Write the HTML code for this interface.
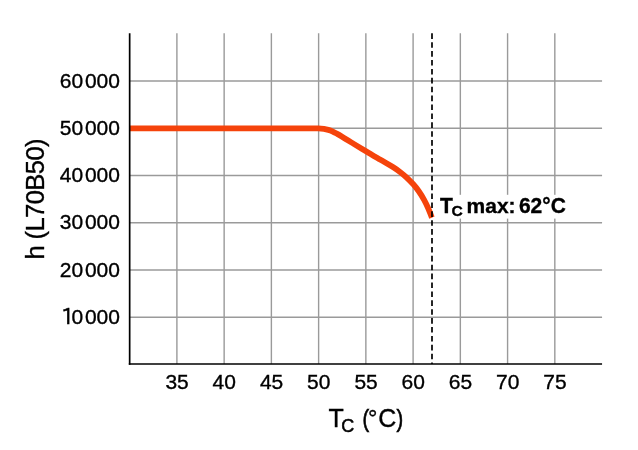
<!DOCTYPE html>
<html><head><meta charset="utf-8"><title>Tc chart</title>
<style>
html,body{margin:0;padding:0;background:#fff;}
svg{display:block;}
text{font-family:"Liberation Sans",Arial,Helvetica,sans-serif;fill:#000;stroke:#000;stroke-width:0.35px;}
.tick{font-size:21px;}
.one{font-family:'IPAPGothic','IPAGothic','Liberation Sans',sans-serif;font-size:20.4px;stroke-width:0.55px;}
.title{font-size:24px;}
.ann{font-size:21px;font-weight:bold;stroke-width:0.35px;}
</style></head>
<body>
<svg width="638" height="450" viewBox="0 0 638 450">
<rect width="638" height="450" fill="#fff"/>
<g stroke="#9a9a9a" stroke-width="1.4" fill="none">
<path d="M176.90 33.32V364.00M224.14 33.32V364.00M271.38 33.32V364.00M318.62 33.32V364.00M365.86 33.32V364.00M413.10 33.32V364.00M460.34 33.32V364.00M507.58 33.32V364.00M554.82 33.32V364.00"/>
<path d="M129.66 317.21H602.06M129.66 269.97H602.06M129.66 222.73H602.06M129.66 175.49H602.06M129.66 128.25H602.06M129.66 81.01H602.06"/>
</g>
<path d="M129.66 128.3H300.0 C302.0 128.3 308.9 128.3 312.0 128.3 C315.1 128.3 316.6 128.3 318.6 128.4 C320.6 128.5 322.3 128.7 323.9 128.9 C325.5 129.2 326.8 129.5 328.3 129.9 C329.8 130.3 331.3 130.9 332.8 131.6 C334.3 132.3 335.7 133.1 337.2 133.9 C338.7 134.7 340.2 135.6 341.7 136.5 C343.2 137.4 344.2 138.0 346.1 139.2 C348.0 140.4 350.0 141.6 353.3 143.6 C356.6 145.6 361.6 148.6 366.0 151.3 C370.4 154.0 375.4 156.9 380.0 159.6 C384.6 162.3 390.0 165.2 393.3 167.3 C396.6 169.4 397.8 170.3 400.0 172.0 C402.2 173.7 404.5 175.5 406.7 177.6 C408.9 179.7 411.3 182.1 413.3 184.3 C415.3 186.5 416.8 188.4 418.6 191.0 C420.4 193.6 422.5 196.9 424.1 199.8 C425.7 202.7 427.0 205.5 428.3 208.5 C429.6 211.5 430.7 214.6 431.9 217.6" stroke="#f5430b" stroke-width="5.75" fill="none" stroke-linejoin="round"/>
<path d="M129.66 33.32V364.85" stroke="#000" stroke-width="1.7" fill="none"/>
<path d="M128.81 364.00H602.06" stroke="#000" stroke-width="1.7" fill="none"/>
<path d="M432 33.32V364.00" stroke="#000" stroke-width="1.7" stroke-dasharray="5.6 3.3" fill="none"/>
<g class="tick" text-anchor="end">
<text transform="translate(119.9 323.7) scale(1 0.99)">0<tspan dx="1.8">000</tspan></text>
<text transform="translate(119.9 276.5) scale(1 0.99)">20<tspan dx="1.8">000</tspan></text>
<text transform="translate(119.9 229.2) scale(1 0.99)">30<tspan dx="1.8">000</tspan></text>
<text transform="translate(119.9 182.0) scale(1 0.99)">40<tspan dx="1.8">000</tspan></text>
<text transform="translate(119.9 134.7) scale(1 0.99)">50<tspan dx="1.8">000</tspan></text>
<text transform="translate(119.9 87.5) scale(1 0.99)">60<tspan dx="1.8">000</tspan></text>
</g>
<text class="one" x="61.2" y="323.61">1</text>
<g class="tick" text-anchor="middle">
<text transform="translate(177.1 389.2) scale(1 0.98)">35</text>
<text transform="translate(224.3 389.2) scale(1 0.98)">40</text>
<text transform="translate(271.6 389.2) scale(1 0.98)">45</text>
<text transform="translate(318.8 389.2) scale(1 0.98)">50</text>
<text transform="translate(366.1 389.2) scale(1 0.98)">55</text>
<text transform="translate(413.3 389.2) scale(1 0.98)">60</text>
<text transform="translate(460.5 389.2) scale(1 0.98)">65</text>
<text transform="translate(507.8 389.2) scale(1 0.98)">70</text>
<text transform="translate(555.0 389.2) scale(1 0.98)">75</text>
</g>
<g class="title" style="font-size:25px">
<text x="328.4" y="426.6">T</text>
<text x="341.2" y="431.6" style="font-size:18px;stroke-width:0.5px">C</text>
<text transform="translate(362.4 426.6) scale(0.8 0.935)" style="stroke-width:0.7px">(</text>
<text x="368" y="426.1" style="font-size:23.5px">°</text>
<text x="378.2" y="426.6">C</text>
<text transform="translate(396.6 426.6) scale(0.8 0.935)" style="stroke-width:0.7px">)</text>
</g>
<text class="title" style="font-size:25.6px;letter-spacing:-0.6px" transform="translate(43.9 259.6) rotate(-90)">h (L70B50)</text>
<rect x="438" y="194.8" width="129" height="23.8" fill="#fff"/>
<g class="ann">
<text transform="translate(440 212.9) scale(1 1.06)">T</text>
<text transform="translate(451.4 216.2) scale(1 0.95)" font-size="15.6" stroke-width="0.8">C</text>
<text transform="translate(466.6 212.8) scale(1 0.94)">max:</text>
<text transform="translate(518.9 212.7) scale(1 1.02)">62°C</text>
</g>
</svg>
</body></html>
